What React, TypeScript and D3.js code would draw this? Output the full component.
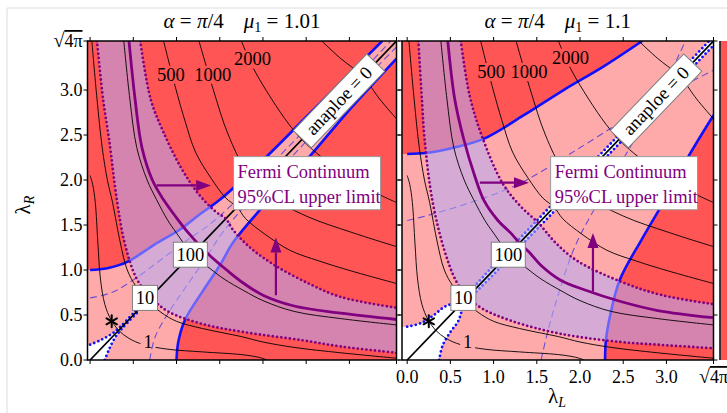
import React from 'react';
import * as d3 from 'd3';

type P = [number, number];
const LMAX = Math.sqrt(4 * Math.PI);
const W = 727;
const H = 413;
const YB = 360;
const YT = 41;

const tickValues = [0, 0.5, 1, 1.5, 2, 2.5, 3, LMAX];
const tickLabels = ['0.0', '0.5', '1.0', '1.5', '2.0', '2.5', '3.0', '√4π'];
const muValues = ['1.01', '1.1'];

// black contours: upper half (edge -> diagonal), mirrored about λL = λR
const contour1: P[] = [[0, 2.05], [0.03, 1.95], [0.06, 1.75], [0.09, 1.3], [0.12, 0.9], [0.17, 0.62], [0.24, 0.45], [0.33, 0.33]];
const contour10: P[] = [[0.02, 3.545], [0.08, 2.9], [0.14, 2.36], [0.2, 2.0], [0.26, 1.75], [0.35, 1.3], [0.43, 1.0], [0.53, 0.82], [0.66, 0.66]];
const contour100: P[] = [[0.39, 3.545], [0.46, 2.9], [0.54, 2.36], [0.66, 2.0], [0.77, 1.78], [0.9, 1.55], [1.0, 1.41], [1.18, 1.18]];
const contour500: P[] = [[0.85, 3.545], [0.99, 3.02], [1.1, 2.65], [1.22, 2.31], [1.4, 2.02], [1.57, 1.8], [1.7, 1.7]];
const contour1000: P[] = [[1.26, 3.545], [1.42, 3.02], [1.6, 2.5], [1.8, 2.13], [2.0, 2.0]];
const contour2000: P[] = [[1.75, 3.545], [1.89, 3.24], [2.1, 2.9], [2.3, 2.62], [2.45, 2.45]];
const contour5000: P[] = [[2.68, 3.545], [2.9, 3.35], [3.1, 3.2], [3.15, 3.15]];
const contours = [contour1, contour10, contour100, contour500, contour1000, contour2000, contour5000];

const contourLabelText = ['1', '10', '100', '500', '1000', '2000'];
const contourLabelBoxed = [false, true, true, false, false, false];
const leftLabelPos: P[] = [[0.67, 0.2], [0.635, 0.69], [1.16, 1.17], [0.935, 3.17], [1.42, 3.17], [1.88, 3.34]];
const rightLabelPos: P[] = [[0.7, 0.2], [0.65, 0.69], [1.17, 1.17], [0.97, 3.2], [1.41, 3.2], [1.89, 3.36]];
const starPos: P = [0.25, 0.43];
const anaploeAt = 2.88;
const fermiBox: P[] = [[1.66, 2.26], [3.36, 1.67]];

// left panel (mu1 = 1.01)
const leftBlueA: P[] = [[0, 1.0], [0.2, 1.02], [0.43, 1.09], [0.74, 1.28], [1.04, 1.45], [1.27, 1.62], [1.5, 1.78], [2.0, 2.22], [2.5, 2.7], [3.0, 3.18], [3.38, 3.545]];
const leftBlueB: P[] = [[1.0, 0], [1.02, 0.2], [1.1, 0.45], [1.3, 0.76], [1.5, 1.05], [1.65, 1.3], [1.94, 1.64], [2.52, 2.24], [3.0, 2.78], [3.545, 3.35]];
const leftDashed: P[] = [[0, 0.69], [0.25, 0.75], [0.5, 0.89], [0.8, 1.1], [1.12, 1.33], [1.4, 1.52], [1.7, 1.78], [2.0, 2.08], [2.5, 2.57], [3.0, 3.06], [3.48, 3.545]];
const leftBlueDotted: P[] = [[0, 0.17], [0.12, 0.22], [0.25, 0.29], [0.35, 0.37], [0.55, 0.57]];
const leftInner: P[] = [[0.08, 3.545], [0.15, 2.9], [0.22, 2.45], [0.31, 1.78], [0.4, 1.3], [0.54, 0.9], [0.7, 0.7]];
const leftOuter: P[] = [[0.58, 3.545], [0.7, 2.9], [0.84, 2.55], [1.05, 2.14], [1.25, 1.85], [1.45, 1.65], [1.57, 1.57]];
const leftFermi: P[] = [[0.45, 3.545], [0.52, 2.9], [0.6, 2.36], [0.72, 2.0], [0.85, 1.78], [1.0, 1.58], [1.13, 1.42], [1.27, 1.27]];
const leftArrowH: P[] = [[0.77, 1.94], [1.4, 1.94]];
const leftArrowV: P[] = [[2.15, 0.72], [2.15, 1.36]];

// right panel (mu1 = 1.1)
const rightBlueA: P[] = [[0, 2.29], [0.22, 2.3], [0.5, 2.35], [0.89, 2.46], [1.35, 2.72], [1.81, 3.0], [2.27, 3.26], [2.72, 3.545]];
const rightDashed: P[] = [[0, 1.55], [0.25, 1.61], [0.7, 1.74], [1.28, 1.95], [1.9, 2.3], [2.6, 2.72], [3.1, 3.0], [3.545, 3.22]];
const rightBlueDotted: P[] = [[0, 0.37], [0.16, 0.41], [0.31, 0.5], [0.43, 0.59], [0.6, 0.66], [1.0, 1.05], [2.0, 2.05], [3.0, 3.05], [3.495, 3.545]];
const rightInner: P[] = [[0.13, 3.545], [0.17, 2.9], [0.2, 2.47], [0.29, 1.78], [0.43, 1.22], [0.57, 0.87], [0.7, 0.7]];
const rightOuter: P[] = [[0.62, 3.545], [0.72, 2.95], [0.86, 2.5], [1.1, 1.97], [1.3, 1.72], [1.52, 1.52]];
const rightFermi: P[] = [[0.47, 3.545], [0.55, 2.9], [0.65, 2.47], [0.78, 2.05], [0.89, 1.77], [1.05, 1.55], [1.2, 1.41], [1.3, 1.3]];
const rightArrowH: P[] = [[0.84, 1.97], [1.41, 1.97]];
const rightArrowV: P[] = [[2.15, 0.76], [2.15, 1.41]];

const mirror = (pts: P[]): P[] => pts.map(([a, b]) => [b, a] as P);
const fullSym = (upper: P[]): P[] => upper.concat(mirror(upper).reverse().slice(1));

const RED = '#ff5555';
const PINK = '#ffaaaa';
const BLUE = '#1010ff';
const PURPLE = '#800080';
const DASH = '#6a4fd6';
const FONT = '"Liberation Serif", "Times New Roman", serif';

type Cfg = {
  blueA: P[]; blueB: P[]; dashedA: P[]; dashedB: P[]; blueDotted: P[];
  inner: P[]; outer: P[]; fermi: P[]; arrowH: P[]; arrowV: P[]; labelPos: P[];
};

const leftCfg: Cfg = {
  blueA: leftBlueA, blueB: leftBlueB, dashedA: leftDashed, dashedB: mirror(leftDashed),
  blueDotted: leftBlueDotted, inner: leftInner, outer: leftOuter, fermi: leftFermi,
  arrowH: leftArrowH, arrowV: leftArrowV, labelPos: leftLabelPos,
};
const rightCfg: Cfg = {
  blueA: rightBlueA, blueB: mirror(rightBlueA), dashedA: rightDashed, dashedB: mirror(rightDashed),
  blueDotted: rightBlueDotted, inner: rightInner, outer: rightOuter, fermi: rightFermi,
  arrowH: rightArrowH, arrowV: rightArrowV, labelPos: rightLabelPos,
};

function Panel({ id, x0, x1, xmin, mu, cfg, showY, showX }: {
  id: string; x0: number; x1: number; xmin: number; mu: string; cfg: Cfg; showY: boolean; showX: boolean;
}) {
  const xs = d3.scaleLinear().domain([xmin, LMAX]).range([x0, x1]);
  const ys = d3.scaleLinear().domain([0, LMAX]).range([YB, YT]);
  const line = d3.line<P>().x(d => xs(d[0])).y(d => ys(d[1])).curve(d3.curveCatmullRom.alpha(0.5));
  const L = (pts: P[]) => line(pts) as string;
  const cont = (pts: P[]) => 'L' + L(pts).slice(1);

  const { blueA, blueB, blueDotted: U } = cfg;
  const pinkD = `M${xs(xmin)},${ys(blueA[0][1])}` + cont(blueA) + `L${xs(LMAX)},${ys(LMAX)}` +
    cont([...blueB].reverse()) + `L${xs(xmin)},${ys(0)}Z`;
  const lowerDot = mirror(U);
  const whiteD = `M${xs(xmin)},${ys(U[0][1])}` + cont(U) +
    (U[U.length - 1][1] >= LMAX - 1e-3 ? `L${xs(LMAX)},${ys(LMAX)}` : '') +
    cont([...lowerDot].reverse()) + `L${xs(xmin)},${ys(0)}Z`;
  const innerFull = fullSym(cfg.inner);
  const outerFull = fullSym(cfg.outer);
  const bandD = L(innerFull) + cont([...outerFull].reverse()) + 'Z';

  const angle = Math.atan2(ys(1) - ys(0), xs(1) - xs(0)) * 180 / Math.PI;
  const cx = (x0 + x1) / 2;

  const arrow = (pts: P[], key: string) => {
    const [a, b] = pts;
    const ax = xs(a[0]), ay = ys(a[1]), bx = xs(b[0]), by = ys(b[1]);
    const t = Math.atan2(by - ay, bx - ax);
    const hl = 15, hw = 5.5;
    const hx = bx - hl * Math.cos(t), hy = by - hl * Math.sin(t);
    const pts2 = `${bx},${by} ${hx + hw * Math.sin(t)},${hy - hw * Math.cos(t)} ${hx - hw * Math.sin(t)},${hy + hw * Math.cos(t)}`;
    return (
      <g key={key}>
        <line x1={ax} y1={ay} x2={hx} y2={hy} stroke={PURPLE} strokeWidth={2.2} />
        <polygon points={pts2} fill={PURPLE} />
      </g>
    );
  };

  const sx = xs(starPos[0]), sy = ys(starPos[1]);
  const fx0 = xs(fermiBox[0][0]), fy0 = ys(fermiBox[0][1]);
  const fx1 = xs(fermiBox[1][0]), fy1 = ys(fermiBox[1][1]);

  const tickText = (t: string) => t === '√4π'
    ? (<><tspan fontSize={20}>√</tspan><tspan style={{ textDecoration: 'overline' }}>4π</tspan></>)
    : t;

  return (
    <g>
      <defs>
        <clipPath id={`clip${id}`}>
          <rect x={x0} y={YT} width={x1 - x0} height={YB - YT} />
        </clipPath>
        <mask id={`mask${id}`} maskUnits="userSpaceOnUse" x={0} y={0} width={W} height={H}>
          <rect x={0} y={0} width={W} height={H} fill="white" />
          {contourLabelText.map((t, i) => contourLabelBoxed[i] ? null : (
            <rect key={i} x={xs(cfg.labelPos[i][0]) - (t.length * 9 + 6) / 2} y={ys(cfg.labelPos[i][1]) - 9}
              width={t.length * 9 + 6} height={18} fill="black" />
          ))}
        </mask>
      </defs>
      <text x={cx} y={28} textAnchor="middle" fontFamily={FONT} fontSize={21} fill="black">
        <tspan fontStyle="italic">α</tspan> = <tspan fontStyle="italic">π</tspan>/4
        <tspan dx={20} fontStyle="italic">μ</tspan><tspan dy={4} fontSize={14}>1</tspan><tspan dy={-4}> = {mu}</tspan>
      </text>
      <g clipPath={`url(#clip${id})`}>
        <rect x={x0} y={YT} width={x1 - x0} height={YB - YT} fill={RED} />
        <path d={pinkD} fill={PINK} />
        <path d={whiteD} fill="white" />
        <path d={L(cfg.dashedA)} fill="none" stroke={DASH} strokeWidth={1.1} strokeDasharray="7 4" />
        <path d={L(cfg.dashedB)} fill="none" stroke={DASH} strokeWidth={1.1} strokeDasharray="7 4" />
        <path d={L(blueA)} fill="none" stroke={BLUE} strokeWidth={2.6} />
        <path d={L(blueB)} fill="none" stroke={BLUE} strokeWidth={2.6} />
        <path d={L(U)} fill="none" stroke={BLUE} strokeWidth={2.8} strokeDasharray="0 4.4" strokeLinecap="round" />
        <path d={L(lowerDot)} fill="none" stroke={BLUE} strokeWidth={2.8} strokeDasharray="0 4.4" strokeLinecap="round" />
        <path d={bandD} fill="rgb(178,172,250)" fillOpacity={0.55} />
        <g mask={`url(#mask${id})`}>
          {contours.map((c, i) => (
            <path key={i} d={L(fullSym(c))} fill="none" stroke="black" strokeWidth={0.9} />
          ))}
        </g>
        <path d={L([[0, 0], [LMAX, LMAX]])} fill="none" stroke="black" strokeWidth={1.7} />
        <path d={L(innerFull)} fill="none" stroke={PURPLE} strokeWidth={2.8} strokeDasharray="0 4.3" strokeLinecap="round" />
        <path d={L(outerFull)} fill="none" stroke={PURPLE} strokeWidth={2.8} strokeDasharray="0 4.3" strokeLinecap="round" />
        <path d={L(fullSym(cfg.fermi))} fill="none" stroke={PURPLE} strokeWidth={2.8} />
        {arrow(cfg.arrowH, 'h')}
        {arrow(cfg.arrowV, 'v')}
      </g>
      {contourLabelText.map((t, i) => {
        const px = xs(cfg.labelPos[i][0]), py = ys(cfg.labelPos[i][1]);
        const w = t.length * 9 + 7;
        return (
          <g key={i}>
            {contourLabelBoxed[i] && (
              <rect x={px - w / 2} y={py - 12.5} width={w} height={25} fill="white" stroke="#808080" strokeWidth={1} />
            )}
            <text x={px} y={py + 6} textAnchor="middle" fontFamily={FONT} fontSize={18.5} fill="black">{t}</text>
          </g>
        );
      })}
      <g stroke="black" strokeWidth={2} strokeLinecap="round">
        <line x1={sx} y1={sy - 6} x2={sx} y2={sy + 6} />
        <line x1={sx - 5.2} y1={sy - 3} x2={sx + 5.2} y2={sy + 3} />
        <line x1={sx - 5.2} y1={sy + 3} x2={sx + 5.2} y2={sy - 3} />
      </g>
      <g transform={`translate(${xs(anaploeAt)},${ys(anaploeAt)}) rotate(${angle})`}>
        <rect x={-53} y={-12.5} width={106} height={25} fill="white" stroke="#808080" strokeWidth={1} />
        <text x={0} y={6} textAnchor="middle" fontFamily={FONT} fontSize={18.5} fill="black">anaploe = 0</text>
      </g>
      <rect x={fx0} y={fy0} width={fx1 - fx0} height={fy1 - fy0} fill="white" stroke="#9a9a9a" strokeWidth={1} />
      <text x={fx0 + 4} y={fy0 + 21} fontFamily={FONT} fontSize={18.5} fill={PURPLE}>Fermi Continuum</text>
      <text x={fx0 + 4} y={fy0 + 46} fontFamily={FONT} fontSize={18.5} fill={PURPLE}>95%CL upper limit</text>
      <rect x={x0} y={YT} width={x1 - x0} height={YB - YT} fill="none" stroke="black" strokeWidth={1.5} />
      <g stroke="black" strokeWidth={1}>
        {tickValues.map((v, i) => (
          <g key={i}>
            <line x1={xs(v)} y1={YB} x2={xs(v)} y2={YB + 4} />
            <line x1={xs(v)} y1={YT} x2={xs(v)} y2={YT - 4} />
            <line x1={x0} y1={ys(v)} x2={x0 - 4} y2={ys(v)} />
            <line x1={x1} y1={ys(v)} x2={x1 + 4} y2={ys(v)} />
          </g>
        ))}
      </g>
      {showY && tickLabels.map((t, i) => (
        <text key={i} x={x0 - 5} y={ys(tickValues[i]) + 6} textAnchor="end" fontFamily={FONT} fontSize={18} fill="black">
          {tickText(t)}
        </text>
      ))}
      {showX && tickLabels.map((t, i) => (
        <text key={i} x={xs(tickValues[i])} y={383} textAnchor="middle" fontFamily={FONT} fontSize={18} fill="black">
          {tickText(t)}
        </text>
      ))}
    </g>
  );
}

export default function App() {
  return (
    <svg width={W} height={H} style={{ display: 'block', position: 'absolute', left: 0, top: 0, background: 'white' }}>
      <rect x={0} y={0} width={W} height={H} fill="white" />
      <line x1={7} y1={8} x2={W} y2={8} stroke="#dcdcdc" strokeWidth={1} />
      <line x1={7} y1={8} x2={7} y2={H} stroke="#dcdcdc" strokeWidth={1} />
      <Panel id="L" x0={87.5} x1={396.5} xmin={-0.03} mu={muValues[0]} cfg={leftCfg} showY={true} showX={false} />
      <Panel id="R" x0={402} x1={713.5} xmin={-0.06} mu={muValues[1]} cfg={rightCfg} showY={false} showX={true} />
      <rect x={720.5} y={YT} width={8} height={YB - YT} fill={RED} />
      <line x1={720} y1={YT} x2={720} y2={YB} stroke="black" strokeWidth={1.5} />
      <text x={30} y={205} fontFamily={FONT} fontSize={21} transform="rotate(-90 30 205)" textAnchor="middle" fill="black">
        λ<tspan dy={4} fontSize={14} fontStyle="italic">R</tspan>
      </text>
      <text x={557} y={403} fontFamily={FONT} fontSize={21} textAnchor="middle" fill="black">
        λ<tspan dy={4} fontSize={14} fontStyle="italic">L</tspan>
      </text>
    </svg>
  );
}
